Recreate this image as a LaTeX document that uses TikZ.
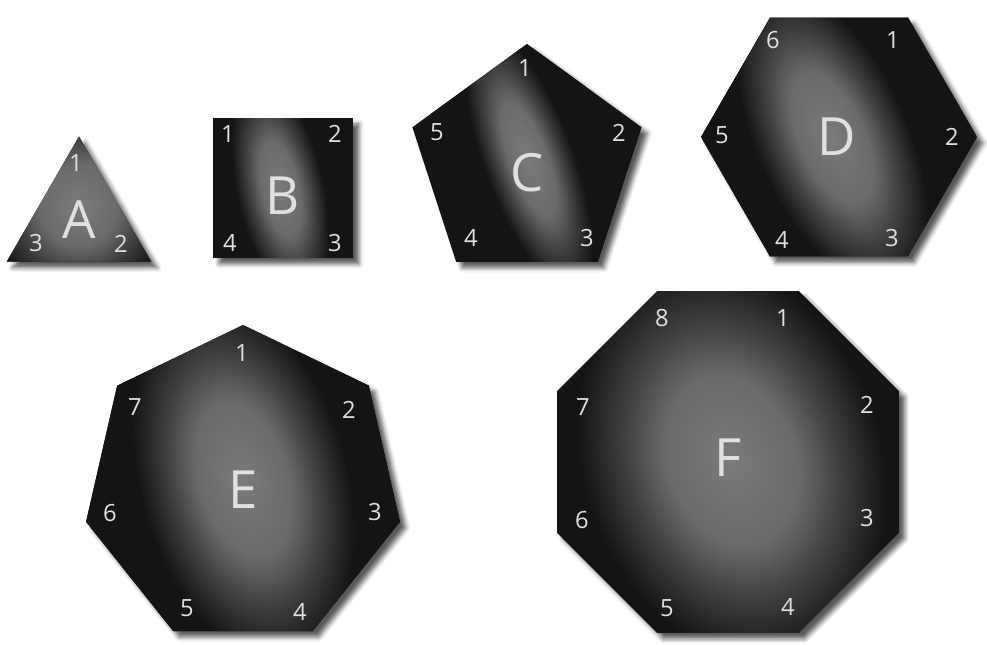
\documentclass[tikz,border=0pt]{standalone}
\usepackage{fontspec}
\setsansfont{Open Sans}
\usetikzlibrary{shapes.geometric,shadows.blur}
\pgfdeclareradialshading{texture}{\pgfpoint{0bp}{0bp}}{color(0bp)=(black!52); color(6bp)=(black!58); color(10bp)=(black!76); color(14bp)=(black!92); color(50bp)=(black!92)}
\tikzstyle{poly} = [regular polygon, fill=black!92, inner sep=0pt, outer sep=0pt,
  blur shadow={shadow xshift=3.4pt, shadow yshift=-3.4pt, shadow blur radius=2.6pt, shadow opacity=65}]
\tikzstyle{patch} = [shading=texture]
\tikzstyle{cornernum} = [text=white!88!black, font=\sffamily\fontsize{13.5}{15}\selectfont, inner sep=0pt]
\tikzstyle{letter} = [text=white!88!black, font=\sffamily\fontsize{30}{32}\selectfont, inner sep=0pt]

\begin{document}
\begin{tikzpicture}[x=0.02cm,y=0.02cm]
            \useasboundingbox (0,0) rectangle (987,-645);
            % shapes
            \node [poly, regular polygon sides=3, minimum size=3.34cm] (A) at (79,-220) {};
            \node [poly, regular polygon sides=4, minimum size=3.96cm] (B) at (283,-188) {};
            \node [poly, regular polygon sides=5, minimum size=4.82cm] (C) at (527,-164.5) {};
            \node [poly, regular polygon sides=6, minimum size=5.52cm] (D) at (839,-137) {};
            \node [poly, regular polygon sides=7, minimum size=6.44cm] (E) at (243,-486) {};
            \node [poly, regular polygon sides=8, minimum size=7.40cm] (F) at (728,-462) {};
            % grey patches
            \begin{scope}
              \clip (A.corner 1) -- (A.corner 2) -- (A.corner 3) -- cycle;
              \shade [patch] (79,-205) ellipse [x radius=160, y radius=170];
            \end{scope}
            \begin{scope}
              \clip (B.corner 1) -- (B.corner 2) -- (B.corner 3) -- (B.corner 4) -- cycle;
              \begin{scope}[transform canvas={rotate around={12:(283,-188)}}]
                \shade [patch] (280,-188) ellipse [x radius=78, y radius=200];
              \end{scope}
            \end{scope}
            \begin{scope}
              \clip (C.corner 1) -- (C.corner 2) -- (C.corner 3) -- (C.corner 4) -- (C.corner 5) -- cycle;
              \begin{scope}[transform canvas={rotate around={20:(527,-164.5)}}]
                \shade [patch] (530,-160) ellipse [x radius=80, y radius=250];
              \end{scope}
            \end{scope}
            \begin{scope}
              \clip (D.corner 1) -- (D.corner 2) -- (D.corner 3) -- (D.corner 4) -- (D.corner 5) -- (D.corner 6) -- cycle;
              \begin{scope}[transform canvas={rotate around={24:(839,-137)}}]
                \shade [patch] (832,-135) ellipse [x radius=135, y radius=290];
              \end{scope}
            \end{scope}
            \begin{scope}
              \clip (E.corner 1) -- (E.corner 2) -- (E.corner 3) -- (E.corner 4) -- (E.corner 5) -- (E.corner 6) -- (E.corner 7) -- cycle;
              \begin{scope}[transform canvas={rotate around={15:(243,-486)}}]
                \shade [patch] (245,-480) ellipse [x radius=185, y radius=330];
              \end{scope}
            \end{scope}
            \begin{scope}
              \clip (F.corner 1) -- (F.corner 2) -- (F.corner 3) -- (F.corner 4) -- (F.corner 5) -- (F.corner 6) -- (F.corner 7) -- (F.corner 8) -- cycle;
              \begin{scope}[transform canvas={rotate around={18:(728,-462)}}]
                \shade [patch] (732,-462) ellipse [x radius=265, y radius=360];
              \end{scope}
            \end{scope}
            % letters
            \node [letter] (labA) at (79,-220) {A};
            \node [letter] (labB) at (283,-196) {B};
            \node [letter] (labC) at (527,-173) {C};
            \node [letter] (labD) at (837,-137) {D};
            \node [letter] (labE) at (243,-490) {E};
            \node [letter] (labF) at (728,-458) {F};
            % corner numbers
            \node [cornernum] (A1) at (76,-163) {1};
            \node [cornernum] (A2) at (121,-244) {2};
            \node [cornernum] (A3) at (36,-243) {3};
            \node [cornernum] (B1) at (228,-134) {1};
            \node [cornernum] (B2) at (335,-134) {2};
            \node [cornernum] (B3) at (335,-243) {3};
            \node [cornernum] (B4) at (230,-243) {4};
            \node [cornernum] (C1) at (525,-68) {1};
            \node [cornernum] (C2) at (619,-133) {2};
            \node [cornernum] (C3) at (587,-238) {3};
            \node [cornernum] (C4) at (471,-238) {4};
            \node [cornernum] (C5) at (437,-132) {5};
            \node [cornernum] (D1) at (893,-40) {1};
            \node [cornernum] (D2) at (952,-137) {2};
            \node [cornernum] (D3) at (892,-238) {3};
            \node [cornernum] (D4) at (782,-240) {4};
            \node [cornernum] (D5) at (722,-135) {5};
            \node [cornernum] (D6) at (773,-40) {6};
            \node [cornernum] (E1) at (242,-353) {1};
            \node [cornernum] (E2) at (349,-410) {2};
            \node [cornernum] (E3) at (375,-512) {3};
            \node [cornernum] (E4) at (300,-612) {4};
            \node [cornernum] (E5) at (187,-608) {5};
            \node [cornernum] (E6) at (110,-513) {6};
            \node [cornernum] (E7) at (135,-407) {7};
            \node [cornernum] (F1) at (783,-318) {1};
            \node [cornernum] (F2) at (867,-405) {2};
            \node [cornernum] (F3) at (867,-518) {3};
            \node [cornernum] (F4) at (788,-607) {4};
            \node [cornernum] (F5) at (667,-608) {5};
            \node [cornernum] (F6) at (582,-520) {6};
            \node [cornernum] (F7) at (583,-407) {7};
            \node [cornernum] (F8) at (662,-318) {8};
\end{tikzpicture}
\end{document}
